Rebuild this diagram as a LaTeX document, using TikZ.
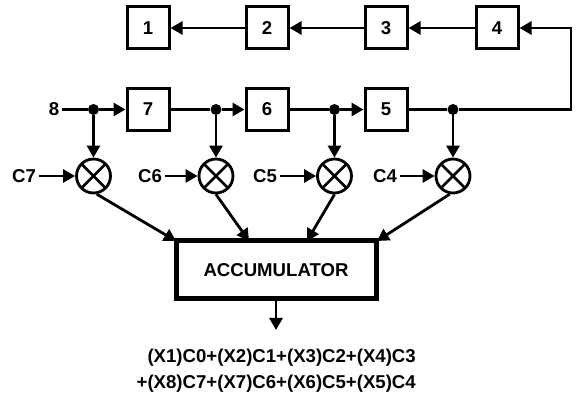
\documentclass[tikz,border=0pt]{standalone}
\usepackage{fontspec}
\setmainfont{Liberation Sans}
\usetikzlibrary{arrows.meta}

\tikzset{
    lbl/.style={inner sep=3pt, font=\fontsize{18.6}{26}\selectfont\bfseries},
    cell/.style={lbl, draw, line width=3pt, minimum size=42pt, inner sep=0pt},
    accbox/.style={lbl, draw, line width=5pt, minimum width=200pt, minimum height=58pt},
    mult/.style={draw, circle, line width=2.8pt, minimum size=34pt, inner sep=0pt,
        path picture={
            \draw[line width=2.8pt] (path picture bounding box.north west) -- (path picture bounding box.south east);
            \draw[line width=2.8pt] (path picture bounding box.north east) -- (path picture bounding box.south west);
        }},
    dot/.style={circle, fill, minimum size=11pt, inner sep=0pt},
    wire/.style={line width=2.8pt},
    flow/.style={wire, -{Triangle[length=12pt,width=13pt]}},
}

\begin{document}
\begin{tikzpicture}[x=1pt, y=-1pt]
    \useasboundingbox (0,0) rectangle (576,395);
    % delay line, top row
    \node[cell] (b1) at (148,28) {1};
    \node[cell] (b2) at (267,28) {2};
    \node[cell] (b3) at (386,28) {3};
    \node[cell] (b4) at (497,28) {4};
    % delay line, lower row
    \node[cell] (b7) at (148,109.5) {7};
    \node[cell] (b6) at (267,109.5) {6};
    \node[cell] (b5) at (386,109.5) {5};
    \node[lbl] (in8) at (54,109.5) {8};
    \node[dot] (d7) at (93.5,109.5) {};
    \node[dot] (d6) at (216,109.5) {};
    \node[dot] (d5) at (334.5,109.5) {};
    \node[dot] (d4) at (453,109.5) {};
    \coordinate (turn) at (571,28);
    % multipliers
    \node[mult] (m7) at (93.5,176) {};
    \node[mult] (m6) at (216,176) {};
    \node[mult] (m5) at (334.5,176) {};
    \node[mult] (m4) at (453,176) {};
    \node[lbl] (c7) at (24,176) {C7};
    \node[lbl] (c6) at (150,176) {C6};
    \node[lbl] (c5) at (265,176) {C5};
    \node[lbl] (c4) at (385,176) {C4};
    % accumulator
    \node[accbox] (acc) at (276,270) {ACCUMULATOR};
    \coordinate (a7) at (176,241);
    \coordinate (a6) at (249,241);
    \coordinate (a5) at (307,241);
    \coordinate (a4) at (377,241);
    \coordinate (out) at (276,330);
    \node[lbl, anchor=east, align=right] (sum) at (419,371)
        {(X1)C0+(X2)C1+(X3)C2+(X4)C3\\+(X8)C7+(X7)C6+(X6)C5+(X5)C4};

    \draw[flow] (b2) -- (b1);
    \draw[flow] (b3) -- (b2);
    \draw[flow] (b4) -- (b3);
    \draw[wire] (in8) -- (d7);
    \draw[flow] (d7) -- (b7);
    \draw[wire] (b7) -- (d6);
    \draw[flow] (d6) -- (b6);
    \draw[wire] (b6) -- (d5);
    \draw[flow] (d5) -- (b5);
    \draw[wire] (b5) -- (d4);
    \draw[flow] (d4) -| (turn) -- (b4);
    \draw[flow] (d7) -- (m7);
    \draw[flow] (d6) -- (m6);
    \draw[flow] (d5) -- (m5);
    \draw[flow] (d4) -- (m4);
    \draw[flow] (c7) -- (m7);
    \draw[flow] (c6) -- (m6);
    \draw[flow] (c5) -- (m5);
    \draw[flow] (c4) -- (m4);
    \draw[flow] (m7.-80) -- (a7);
    \draw[flow] (m6.-90) -- (a6);
    \draw[flow] (m5.-90) -- (a5);
    \draw[flow] (m4.-100) -- (a4);
    \draw[flow] (acc) -- (out);
\end{tikzpicture}
\end{document}
